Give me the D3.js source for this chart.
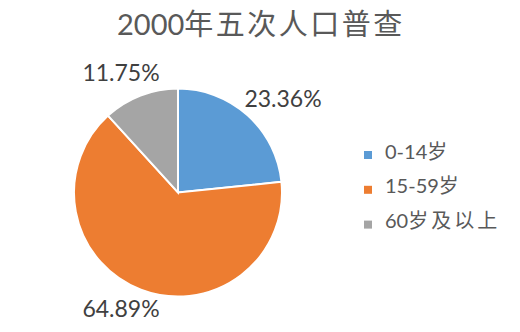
<!DOCTYPE html>
<html><head><meta charset="utf-8">
<script src="https://cdn.jsdelivr.net/npm/d3@7"></script>
<style>body{margin:0;background:#fff}svg{display:block;font-family:Lato,"Noto Sans CJK SC",sans-serif}</style>
</head><body>
<script>
const titleNum = "2000";
const titleCJK = "年五次人口普查";
const categories = ["0-14岁", "15-59岁", "60岁及以上"];
const values = [23.36, 64.89, 11.75];
const colors = ["#5B9BD5", "#ED7D31", "#A5A5A5"];

const W = 520, H = 332;
const svg = d3.select("body").append("svg").attr("width", W).attr("height", H);

// split text into runs of ASCII and CJK so CJK can be spaced wider
function runs(s) {
  return s.match(/[\x00-\x7F]+|[^\x00-\x7F]+/g);
}
function addRuns(sel, s, cjkSpacing) {
  runs(s).forEach(t => {
    const cjk = /[^\x00-\x7F]/.test(t);
    sel.append("tspan").attr("letter-spacing", cjk ? cjkSpacing : 0).text(t);
  });
}

const tt = svg.append("text").attr("x", 117).attr("y", 35)
  .attr("font-size", 29).attr("fill", "#595959");
addRuns(tt, titleNum + titleCJK, 2.5);

const cx = 178, cy = 192.5, r = 104;
const pie = d3.pie().sort(null).value(d => d)(values);
const arc = d3.arc().innerRadius(0).outerRadius(r);
const g = svg.append("g").attr("transform", `translate(${cx},${cy})`);
g.selectAll("path").data(pie).join("path")
  .attr("d", arc).attr("fill", (d, i) => colors[i])
  .attr("stroke", "#fff").attr("stroke-width", 2);

const labelPos = [[283, 107], [121, 317], [121, 81]];
svg.selectAll("text.lbl").data(values).join("text").attr("class", "lbl")
  .attr("x", (d, i) => labelPos[i][0]).attr("y", (d, i) => labelPos[i][1])
  .attr("text-anchor", "middle").attr("font-size", 23).attr("fill", "#404040")
  .text(d => d.toFixed(2) + "%");

const lg = svg.append("g");
const rows = lg.selectAll("g").data(categories).join("g")
  .attr("transform", (d, i) => `translate(364,${154.5 + i * 34.8})`);
rows.append("rect").attr("x", 0).attr("y", -3.5).attr("width", 8).attr("height", 8)
  .attr("fill", (d, i) => colors[i]);
rows.append("text").attr("x", 21).attr("y", 4).attr("font-size", 20).attr("fill", "#595959")
  .each(function(d) { addRuns(d3.select(this), d, 3); });
</script>
</body></html>
